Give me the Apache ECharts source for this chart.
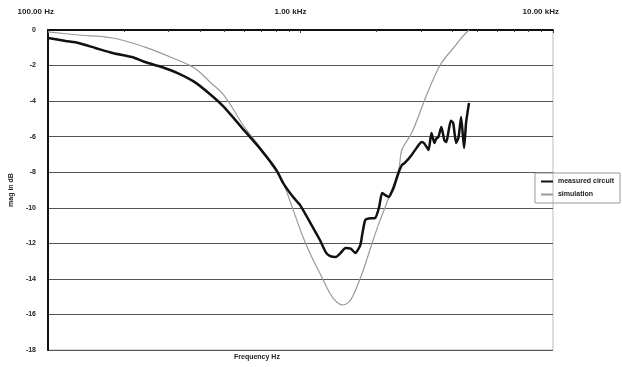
<!DOCTYPE html>
<html>
<head>
<meta charset="utf-8">
<script src="https://cdn.jsdelivr.net/npm/echarts@6/dist/echarts.min.js"></script>
<style>html,body{margin:0;padding:0;background:#fff}#c{width:622px;height:367px}</style>
</head>
<body>
<div id="c"></div>
<script>
// Frequency in Hz, magnitude in dB
const measuredFreq = [100,117.6,132,154,180,215,242,282,326,380,442,497,596,694,802,854,935,995,1119,1192,1258,1305,1377,1440,1507,1580,1649,1725,1756,1804,1860,1975,2048,2104,2161,2241,2300,2344,2451,2519,2588,2756,2936,3017,3099,3213,3301,3391,3450,3516,3613,3711,3780,3847,3940,4024,4135,4230,4325,4444,4525,4590,4649];
const measuredDb   = [-0.45,-0.62,-0.73,-1.01,-1.29,-1.52,-1.80,-2.08,-2.42,-2.92,-3.66,-4.33,-5.62,-6.70,-7.87,-8.61,-9.40,-9.84,-11.10,-11.80,-12.49,-12.70,-12.77,-12.55,-12.26,-12.30,-12.54,-12.10,-11.50,-10.69,-10.60,-10.57,-9.96,-9.17,-9.28,-9.39,-9.10,-8.83,-7.99,-7.60,-7.48,-7.03,-6.47,-6.30,-6.40,-6.75,-5.79,-6.36,-6.10,-6.02,-5.46,-6.19,-6.30,-5.79,-5.10,-5.23,-6.36,-6.00,-4.89,-6.64,-5.23,-4.60,-4.11];
const simFreq = [100,132,180,242,326,380,442,497,596,700,802,854,935,1023,1119,1192,1305,1380,1467,1540,1605,1756,1922,2048,2241,2451,2519,2756,3099,3350,3613,4061,4400,4649];
const simDb   = [-0.11,-0.28,-0.45,-0.96,-1.69,-2.14,-2.98,-3.66,-5.40,-6.70,-7.99,-8.61,-10.12,-11.64,-12.90,-13.67,-14.79,-15.25,-15.47,-15.35,-15.02,-13.67,-11.98,-10.85,-9.39,-7.82,-6.75,-5.80,-3.95,-2.80,-1.86,-0.96,-0.35,0];
const xTickLabels = {100: '100.00 Hz', 1000: '1.00 kHz', 10000: '10.00 kHz'};
const yMin = -18, yMax = 0, yStep = 2;
const seriesNames = ['measured circuit', 'simulation'];

const zip = (a, b) => a.map((v, i) => [v, b[i]]);
const chart = echarts.init(document.getElementById('c'));
const font = 'Liberation Sans, Arial, sans-serif';
chart.setOption({
  animation: false,
  backgroundColor: '#fff',
  grid: {left: 42, right: 69, top: 30, bottom: 17, show: true, borderColor: '#bbb', borderWidth: 1},
  xAxis: {
    type: 'log', logBase: 10, min: 100, max: 10000, position: 'top',
    axisLine: {show: true, lineStyle: {color: '#111', width: 2}},
    axisTick: {show: true, inside: true, length: 3, lineStyle: {color: '#333'}},
    minorTick: {show: true, splitNumber: 9, length: 2, lineStyle: {color: '#444'}},
    axisLabel: {formatter: v => xTickLabels[v] || '', fontSize: 8, fontWeight: 'bold', color: '#222', fontFamily: font, align: 'right', margin: 14, padding: [0, -6, 0, 0]},
    splitLine: {show: false}
  },
  yAxis: {
    type: 'value', min: yMin, max: yMax, interval: yStep,
    name: 'mag in dB', nameLocation: 'middle', nameGap: 27, nameRotate: 90,
    nameTextStyle: {fontSize: 7, fontWeight: 'bold', color: '#222', fontFamily: font},
    axisLine: {show: true, lineStyle: {color: '#111', width: 2}},
    axisTick: {show: false},
    axisLabel: {fontSize: 7, fontWeight: 'bold', color: '#222', fontFamily: font, margin: 12},
    splitLine: {show: true, lineStyle: {color: '#555', width: 1.2}}
  },
  legend: {
    orient: 'vertical', right: 2, top: 173, itemGap: 6,
    itemWidth: 12, itemHeight: 2, icon: 'rect',
    borderColor: '#999', borderWidth: 1, borderRadius: 0, padding: [5, 6, 5, 6],
    textStyle: {fontSize: 7, fontWeight: 'bold', color: '#222', fontFamily: font},
    data: seriesNames
  },
  graphic: [{
    type: 'text', left: 234, top: 354,
    style: {text: 'Frequency Hz', fontSize: 7, fontWeight: 'bold', fill: '#222', fontFamily: font}
  }],
  series: [
    {name: seriesNames[1], type: 'line', showSymbol: false, smooth: 0.4, data: zip(simFreq, simDb),
     lineStyle: {color: '#9a9a9a', width: 1.2}, itemStyle: {color: '#9a9a9a'}, z: 2},
    {name: seriesNames[0], type: 'line', showSymbol: false, smooth: 0.2, data: zip(measuredFreq, measuredDb),
     lineStyle: {color: '#111', width: 2.5}, itemStyle: {color: '#111'}, z: 3}
  ]
});
</script>
</body>
</html>
